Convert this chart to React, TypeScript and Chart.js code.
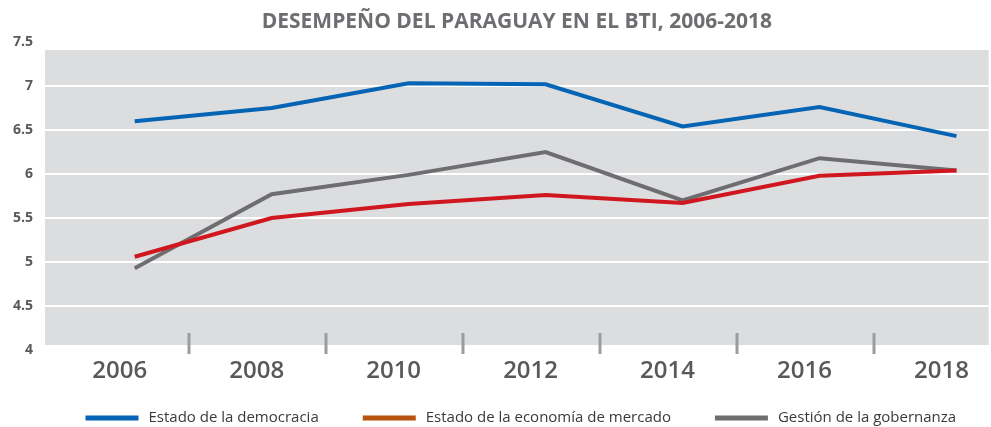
import React, { useEffect, useRef } from "react";
import { Chart, registerables } from "chart.js";

Chart.register(...registerables);

const chartTitle = "DESEMPEÑO DEL PARAGUAY EN EL BTI, 2006-2018";
const years = [2006, 2008, 2010, 2012, 2014, 2016, 2018];
const separatorYears = [2007, 2009, 2011, 2013, 2015, 2017];
const democracia = [6.6, 6.75, 7.03, 7.02, 6.54, 6.76, 6.43];
const mercado = [5.06, 5.5, 5.66, 5.76, 5.67, 5.98, 6.04];
const gobernanza = [4.93, 5.77, 5.99, 6.25, 5.7, 6.18, 6.04];
const seriesLabels = [
  "Estado de la democracia",
  "Estado de la economía de mercado",
  "Gestión de la gobernanza",
];
const lineColors = ["#0565b4", "#d0161f", "#6e6e70"];
const legendColors = ["#0565b4", "#b5530f", "#6e6e70"];
const yMin = 4;
const yMax = 7.5;
const yStep = 0.5;

const plotBg = {
  id: "plotBg",
  beforeDraw(chart: any) {
    const { ctx, chartArea: a } = chart;
    ctx.save();
    ctx.fillStyle = "#dcdddf";
    ctx.fillRect(a.left, a.top + 8, a.right - a.left, a.bottom - a.top - 13);
    ctx.restore();
  },
};

const separators = {
  id: "separators",
  beforeDatasetsDraw(chart: any) {
    const { ctx, chartArea: a, scales } = chart;
    ctx.save();
    ctx.strokeStyle = "#9b9c9e";
    ctx.lineWidth = 3;
    separatorYears.forEach((yr) => {
      const x = Math.round(scales.x.getPixelForValue(yr) - 14);
      ctx.beginPath();
      ctx.moveTo(x, a.bottom - 17);
      ctx.lineTo(x, a.bottom + 4);
      ctx.stroke();
    });
    ctx.restore();
  },
};

const customLegend = {
  id: "customLegend",
  afterDraw(chart: any) {
    const { ctx, chartArea: a } = chart;
    const boxW = 53;
    const boxH = 5;
    const gap = 10;
    const spacing = 44;
    const y = 418;
    ctx.save();
    ctx.font = "15px 'Open Sans'";
    const widths = seriesLabels.map((t) => boxW + gap + ctx.measureText(t).width);
    const total = widths.reduce((s, w) => s + w, 0) + spacing * (widths.length - 1);
    let x = (a.left + a.right) / 2 + 4 - total / 2;
    seriesLabels.forEach((t, i) => {
      ctx.fillStyle = legendColors[i];
      ctx.fillRect(x, y - boxH / 2, boxW, boxH);
      ctx.fillStyle = "#3a3a3c";
      ctx.textBaseline = "middle";
      ctx.textAlign = "left";
      ctx.fillText(t, x + boxW + gap, y);
      x += widths[i] + spacing;
    });
    ctx.restore();
  },
};

export default function App() {
  const ref = useRef<HTMLCanvasElement | null>(null);
  useEffect(() => {
    document.body.style.margin = "0";
    if (!ref.current) return;
    const toPoints = (vals: number[]) => vals.map((v, i) => ({ x: years[i], y: v }));
    const series = [democracia, mercado, gobernanza];
    const chart = new Chart(ref.current, {
      type: "line",
      data: {
        datasets: series.map((vals, i) => ({
          label: seriesLabels[i],
          data: toPoints(vals),
          borderColor: lineColors[i],
          backgroundColor: legendColors[i],
          borderWidth: 4,
          pointRadius: 0,
          tension: 0,
          fill: false,
        })),
      },
      options: {
        animation: false,
        responsive: true,
        maintainAspectRatio: false,
        layout: { padding: { left: 0, right: 0, top: 0, bottom: 0 } },
        plugins: {
          legend: { display: false },
          tooltip: { enabled: false },
          title: {
            display: true,
            text: chartTitle,
            fullSize: false,
            color: "#6d6e71",
            font: { family: "'Open Sans'", size: 21, weight: "bold", lineHeight: 1.2 },
            padding: { top: 9, bottom: 7.8 },
          },
        },
        scales: {
          x: {
            type: "linear",
            min: 2004.69,
            max: 2018.47,
            afterFit: (s: any) => {
              s.height = 77;
            },
            afterBuildTicks: (s: any) => {
              s.ticks = years.map((v) => ({ value: v }));
            },
            grid: { display: false, drawTicks: false },
            border: { display: false },
            ticks: {
              color: "#58595b",
              font: { family: "'Open Sans'", size: 24, weight: 600 },
              labelOffset: -15,
              padding: 7,
              maxRotation: 0,
              autoSkip: false,
              callback: (v: any) => String(v),
            },
          },
          y: {
            min: yMin,
            max: yMax,
            afterFit: (s: any) => {
              s.width = 45;
            },
            grid: {
              drawTicks: false,
              color: (c: any) =>
                c.tick && c.tick.value > yMin && c.tick.value < yMax ? "#ffffff" : "rgba(0,0,0,0)",
              lineWidth: 2,
            },
            border: { display: false },
            ticks: {
              stepSize: yStep,
              color: "#58595b",
              font: { family: "'Open Sans'", size: 14, weight: "bold" },
              padding: 12,
              callback: (v: any) => String(Number(v)),
            },
          },
        },
      },
      plugins: [plotBg, separators, customLegend],
    });
    return () => chart.destroy();
  }, []);
  return (
    <div style={{ position: "relative", width: 991, height: 427 }}>
      <canvas ref={ref} />
    </div>
  );
}
